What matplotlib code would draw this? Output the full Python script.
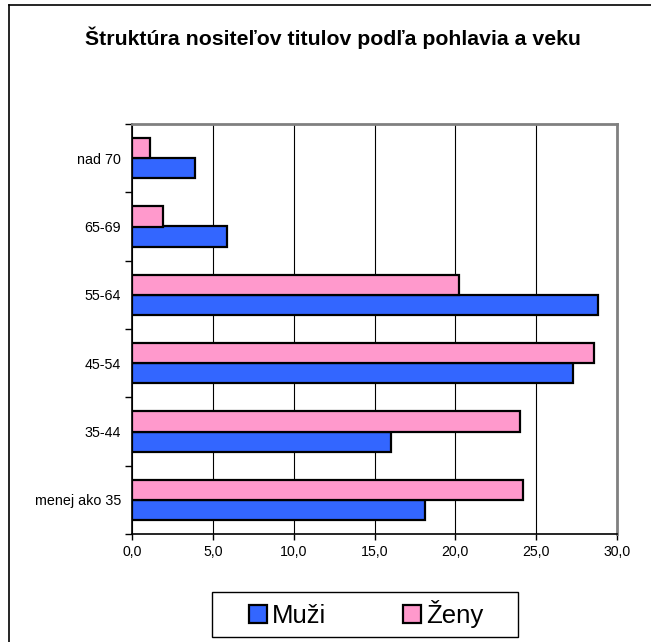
import matplotlib
matplotlib.use('Agg')
import matplotlib.pyplot as plt
import numpy as np
from matplotlib.patches import Rectangle
from matplotlib.lines import Line2D

plt.rcParams['font.family'] = ['Liberation Sans', 'DejaVu Sans']

categories = ['menej ako 35', '35-44', '45-54', '55-64', '65-69', 'nad 70']
muzi = [18.1, 16.0, 27.3, 28.8, 5.9, 3.9]
zeny = [24.2, 24.0, 28.6, 20.2, 1.9, 1.1]
xticks = [0, 5, 10, 15, 20, 25, 30]

W, H = 651, 642
fig = plt.figure(figsize=(W / 100, H / 100), dpi=100)

# outer chart border (top and left only visible)
fig.add_artist(Line2D([9 / W, 1], [1 - 5 / H, 1 - 5 / H], color='black', lw=1.2))
fig.add_artist(Line2D([9 / W, 9 / W], [0, 1 - 5 / H], color='black', lw=1.2))

ax = fig.add_axes([132 / W, 1 - 534 / H, 485 / W, 410 / H])

y = np.arange(len(categories))
h = 0.293
ax.barh(y - h / 2, muzi, height=h, color='#3366FF', edgecolor='black', linewidth=1.6, zorder=3, label='Muži')
ax.barh(y + h / 2, zeny, height=h, color='#FF99CC', edgecolor='black', linewidth=1.6, zorder=3, label='Ženy')

ax.set_xlim(0, 30)
ax.set_ylim(-0.5, len(categories) - 0.5)
ax.set_xticks(xticks)
ax.set_xticklabels([f'{v:.1f}'.replace('.', ',') for v in xticks], fontsize=10.2)
ax.set_yticks(y)
ax.set_yticklabels(categories, fontsize=10.3)
ax.set_yticks(np.arange(len(categories) + 1) - 0.5, minor=True)
ax.tick_params(axis='y', which='major', length=0, pad=8)
ax.tick_params(axis='y', which='minor', length=5, width=1, direction='out')
ax.tick_params(axis='x', length=4, width=1, direction='out', pad=4)

ax.grid(axis='x', color='black', linewidth=0.8, zorder=0)
ax.spines['top'].set_color('#808080')
ax.spines['right'].set_color('#808080')
ax.spines['top'].set_linewidth(2)
ax.spines['right'].set_linewidth(2)
ax.spines['left'].set_linewidth(1.2)
ax.spines['bottom'].set_linewidth(1.2)

fig.text(333 / W, 1 - 38 / H, 'Štruktúra nositeľov titulov podľa pohlavia a veku',
         ha='center', va='center', fontsize=15.3, fontweight='bold')

# legend box
fig.add_artist(Rectangle((212 / W, 1 - 637 / H), 306 / W, 45 / H, transform=fig.transFigure,
                         fill=False, edgecolor='black', linewidth=1))
handles, labels = ax.get_legend_handles_labels()
fig.legend(handles, labels, loc='center', bbox_to_anchor=(366 / W, 1 - 614 / H), ncol=2,
           frameon=False, fontsize=18.5, handlelength=0.7, handleheight=0.7,
           handletextpad=0.2, columnspacing=3.0)

fig.savefig('out.png', dpi=100)
